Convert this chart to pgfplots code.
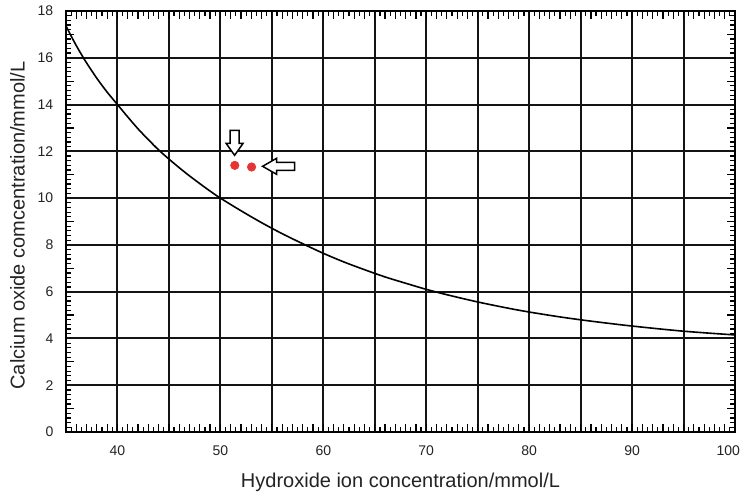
\documentclass[border=0pt]{standalone}
\usepackage{pgfplots}
\pgfplotsset{compat=1.18}
\usepackage{fontspec}
\setmainfont{Liberation Sans}
\definecolor{ptred}{RGB}{228,52,52}
\definecolor{txt}{RGB}{35,35,35}
\begin{document}
\begin{tikzpicture}
\begin{axis}[
  scale only axis,
  width=501.75pt, height=315.75pt,
  xmin=35, xmax=100, ymin=0, ymax=18,
  xtick={35,40,...,100},
  xticklabels={,40,,50,,60,,70,,80,,90,,{\makebox[0pt][c]{\hspace*{-10pt}100}}},
  ytick={0,2,...,18},
  minor x tick num=9,
  minor y tick num=9,
  tick pos=both,
  tick align=inside,
  major tick length=0.1pt,
  minor tick length=3.5pt,
  grid=major,
  major grid style={black!92, line width=1.5pt},
  axis line style={black, line width=1.5pt},
  minor tick style={black, line width=0.9pt},
  extra x ticks={36,...,99},
  extra x tick labels={},
  extra y ticks={1,3,...,17},
  extra y tick labels={},
  extra tick style={grid=none, major tick length=6pt, major tick style={black, line width=0.9pt}},
  /pgf/number format/assume math mode=true,
  ticklabel style={font=\fontsize{10.5}{12}\selectfont, text=txt},
  xticklabel style={yshift=-6.5pt},
  yticklabel style={xshift=-6pt},
  label style={font=\fontsize{15}{18}\selectfont, text=txt},
  xlabel={Hydroxide ion concentration/mmol/L},
  ylabel={Calcium oxide comcentration/mmol/L},
  xlabel style={at={(axis description cs:0.5,-0.1188)}, anchor=center},
  ylabel style={at={(axis description cs:-0.0725,0.4905)}, anchor=center},
  clip=false,
]
\addplot[black, line width=1.2pt, smooth, no marks] coordinates {
  (35,17.36) (35.5,16.93) (36,16.52) (36.5,16.14) (37,15.78) (38,15.12)
  (39,14.53) (40,14.0) (41,13.47) (42,12.96) (43,12.5) (44,12.06) (45,11.67)
  (46,11.3) (47,10.95) (48,10.62) (49,10.3) (50,10.0) (52,9.46) (54,8.95)
  (56,8.48) (58,8.05) (60,7.64) (62,7.27) (64,6.94) (66,6.63) (68,6.36)
  (70,6.10) (72,5.87) (75,5.56) (78,5.29) (80,5.13) (83,4.92) (86,4.74)
  (90,4.53) (95,4.31) (100,4.15)
};
\addplot[only marks, mark=*, mark size=3.2pt, ptred, mark options={draw=ptred, fill=ptred}] coordinates {
  (51.4,11.4) (53.03,11.33)
};
\draw[black, line width=1.1pt, fill=white] (axis cs:51.38,11.83) -- ++(-6.4pt,9pt) -- ++(3pt,0pt) -- ++(0pt,9.75pt) -- ++(6.8pt,0pt) -- ++(0pt,-9.75pt) -- ++(3pt,0pt) -- cycle;
\draw[black, line width=1.1pt, fill=white] (axis cs:54.1,11.36) -- ++(10.5pt,6pt) -- ++(0pt,-3pt) -- ++(13.5pt,0pt) -- ++(0pt,-6pt) -- ++(-13.5pt,0pt) -- ++(0pt,-3pt) -- cycle;
\coordinate (SW) at (rel axis cs:0,0);
\coordinate (NE) at (rel axis cs:1,1);
\end{axis}
\pgfresetboundingbox
\path[use as bounding box] ([shift={(-49.5pt,-48pt)}]SW) rectangle ([shift={(4.5pt,8.25pt)}]NE);
\end{tikzpicture}
\end{document}
